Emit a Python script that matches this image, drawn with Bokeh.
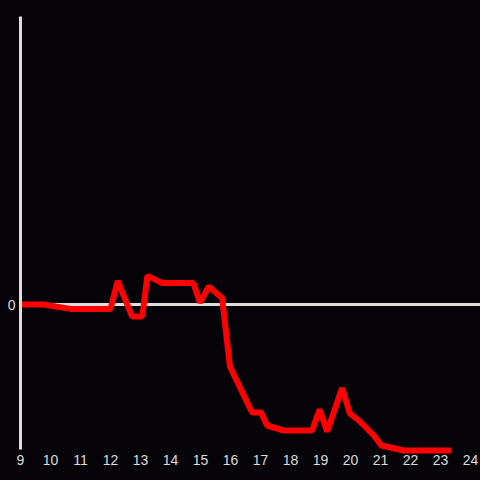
from bokeh.plotting import figure
from bokeh.models import Range1d, LinearAxis, FixedTicker, Span
from bokeh.embed import file_html
from bokeh.resources import INLINE

# Data: hour of day vs value (units)
hours = [9.0, 9.77, 10.67, 12.0, 12.24, 12.72, 13.06, 13.23, 13.72, 14.76,
         14.98, 15.28, 15.72, 15.98, 16.72, 17.02, 17.22, 17.78, 18.72, 18.97,
         19.22, 19.72, 19.98, 20.28, 20.78, 21.03, 21.78, 23.36]
values = [0.0, 0.0, -0.22, -0.22, 1.18, -0.6, -0.6, 1.43, 1.08, 1.08,
          0.1, 0.9, 0.33, -3.1, -5.4, -5.4, -6.05, -6.3, -6.3, -5.25,
          -6.35, -4.18, -5.45, -5.8, -6.55, -7.05, -7.3, -7.3]
x_ticks = list(range(9, 25))
y_ticks = [0]

BG = "#050307"
FG = "#dddddd"
FONT = "Liberation Sans"

p = figure(width=480, height=480, output_backend="svg", toolbar_location=None,
           x_range=Range1d(9, 24.333), y_range=Range1d(-7.5, 14.4),
           x_axis_type=None, y_axis_type=None,
           min_border_left=20, min_border_top=16, min_border_right=0, min_border_bottom=26,
           background_fill_color=BG, border_fill_color=BG, outline_line_color=None,
           styles={"position": "fixed", "left": "0px", "top": "0px",
                   "background-color": BG})

xaxis = LinearAxis(ticker=FixedTicker(ticks=x_ticks), axis_line_color=None,
                   major_tick_line_color=None, minor_tick_line_color=None,
                   major_tick_in=0, major_tick_out=0, minor_tick_in=0, minor_tick_out=0,
                   major_label_standoff=0, major_label_text_color=FG,
                   major_label_text_font=FONT, major_label_text_font_size="14px")
p.add_layout(xaxis, "below")

yaxis = LinearAxis(ticker=FixedTicker(ticks=y_ticks), bounds=(-7.25, 14.4),
                   axis_line_color=FG, axis_line_width=3,
                   major_tick_line_color=None, minor_tick_line_color=None,
                   major_tick_in=0, major_tick_out=0, minor_tick_in=0, minor_tick_out=0,
                   major_label_standoff=5, major_label_text_color=FG,
                   major_label_text_font=FONT, major_label_text_font_size="14px")
p.add_layout(yaxis, "left")

zero = Span(location=0, dimension="width", line_color=FG, line_width=3, level="underlay")
p.add_layout(zero)

p.line(hours, values, line_color="#ff0000", line_width=6)

open("out.html", "w").write(file_html(p, INLINE))
